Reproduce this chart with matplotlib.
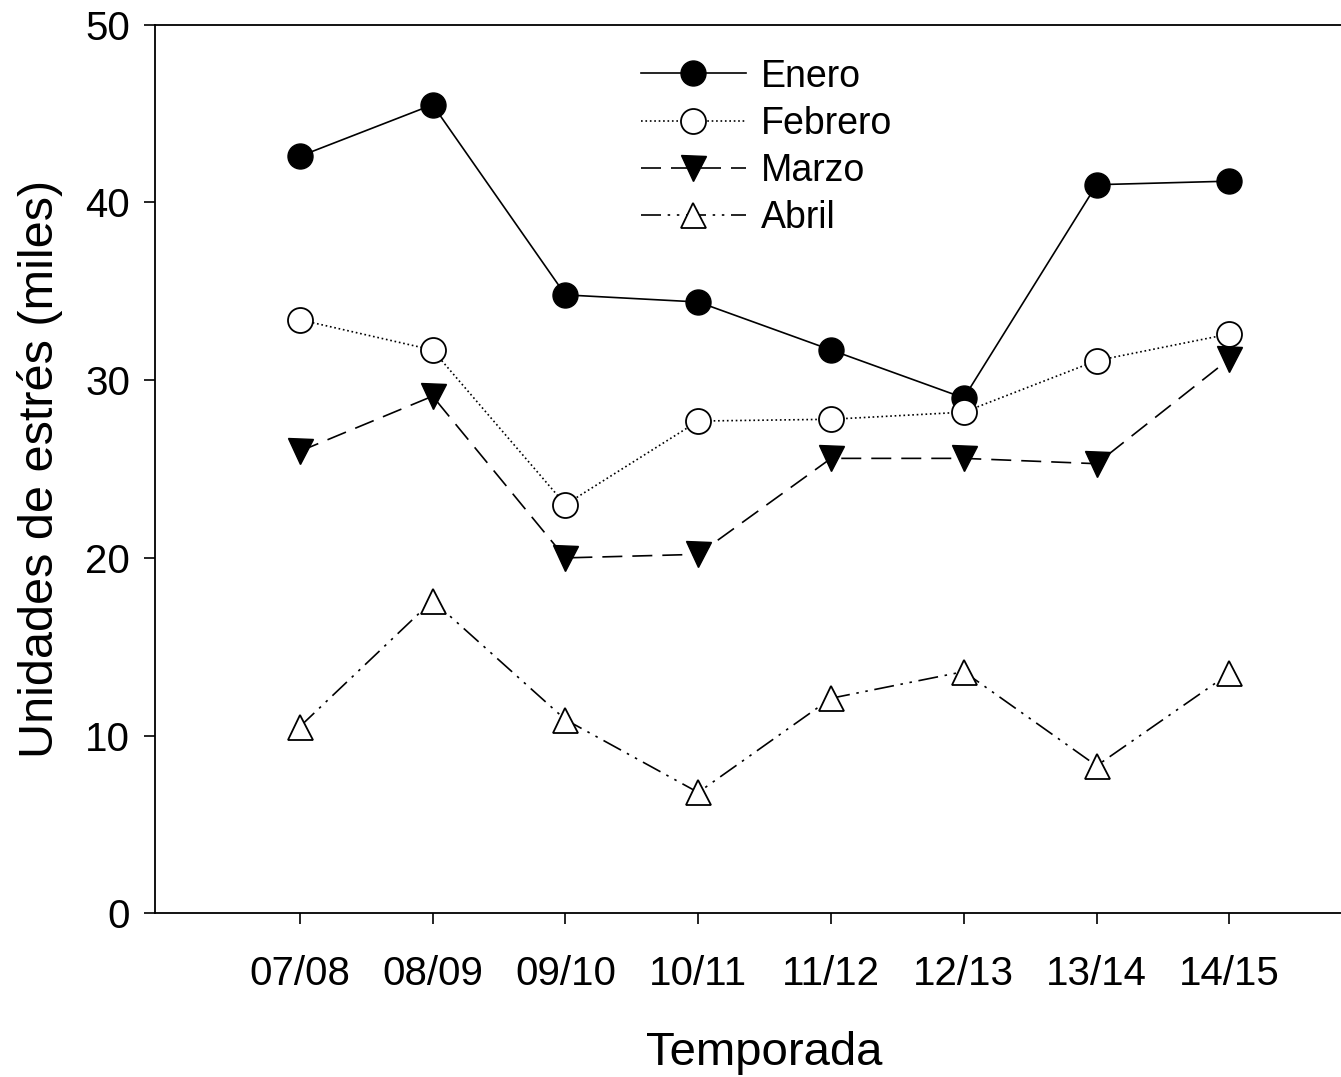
import matplotlib
matplotlib.use("Agg")
import matplotlib.pyplot as plt

plt.rcParams["font.family"] = ["Liberation Sans", "DejaVu Sans"]

temporadas = ["07/08", "08/09", "09/10", "10/11", "11/12", "12/13", "13/14", "14/15"]
enero = [42.6, 45.5, 34.8, 34.4, 31.7, 29.0, 41.0, 41.2]
febrero = [33.4, 31.7, 23.0, 27.7, 27.8, 28.2, 31.1, 32.6]
marzo = [26.0, 29.1, 20.0, 20.2, 25.6, 25.6, 25.3, 31.2]
abril = [10.5, 17.6, 10.9, 6.8, 12.1, 13.6, 8.3, 13.5]

x = list(range(len(temporadas)))

fig = plt.figure(figsize=(13.41, 10.77), dpi=100)
ax = fig.add_axes([0.1156, 0.152, 0.8844, 0.825])

lw = 1.2
ax.plot(x, enero, "-", color="black", lw=lw, marker="o", ms=18, mfc="black", mec="black", label="Enero")
ax.plot(x, febrero, ":", color="black", lw=lw, marker="o", ms=18, mfc="white", mec="black", mew=1.3, label="Febrero")
ax.plot(x, marzo, color="black", lw=lw, dashes=(12, 6), marker="v", ms=18, mfc="black", mec="black", label="Marzo")
ax.plot(x, abril, color="black", lw=lw, dashes=(12, 4, 1.5, 4, 1.5, 4), marker="^", ms=18, mfc="white", mec="black", mew=1.3, label="Abril")

ax.set_xlim(-1.09, 7.84)
ax.set_ylim(0, 50)
ax.set_xticks(x)
ax.set_xticklabels(temporadas)
ax.set_yticks([0, 10, 20, 30, 40, 50])
ax.tick_params(axis="both", direction="out", length=8, width=1.2, labelsize=29, pad=10)
ax.tick_params(axis="x", pad=22)
ax.spines["right"].set_visible(False)
for s in ["left", "bottom", "top"]:
    ax.spines[s].set_linewidth(1.3)

ax.set_xlabel("Temporada", fontsize=34)
ax.xaxis.set_label_coords(0.514, -0.133, transform=ax.transAxes)
ax.set_ylabel("Unidades de estrés (miles)", fontsize=35, labelpad=16)

ax.legend(loc="upper left", bbox_to_anchor=(0.381, 1.0), frameon=False, fontsize=27,
          handlelength=2.8, handletextpad=0.4, labelspacing=0.3, markerscale=1.0)

fig.savefig("out.png", dpi=100)
